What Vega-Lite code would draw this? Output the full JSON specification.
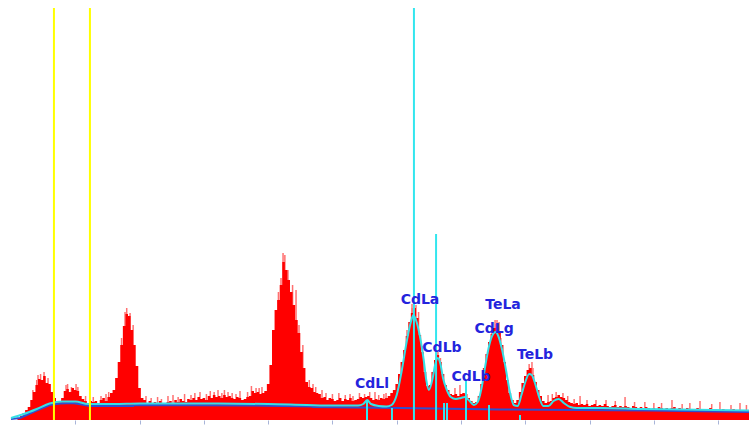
{
  "$schema": "https://vega.github.io/schema/vega-lite/v6.json",
  "width": 738,
  "height": 420,
  "autosize": "none",
  "padding": {"left": 11, "top": 0, "right": 0, "bottom": 5},
  "background": "white",
  "config": {"view": {"stroke": null}},
  "datasets": {
    "spec": [
      {"e":0.00,"c":0},{"e":0.02,"c":0},{"e":0.04,"c":0},{"e":0.06,"c":1},{"e":0.08,"c":4},{"e":0.10,"c":7},{"e":0.12,"c":10},{"e":0.14,"c":13},{"e":0.16,"c":20},{"e":0.18,"c":28},
      {"e":0.20,"c":35},{"e":0.22,"c":41},{"e":0.24,"c":40},{"e":0.26,"c":44},{"e":0.28,"c":37},{"e":0.30,"c":36},{"e":0.32,"c":28},{"e":0.34,"c":22},{"e":0.36,"c":19},{"e":0.38,"c":18},
      {"e":0.40,"c":22},{"e":0.42,"c":29},{"e":0.44,"c":31},{"e":0.46,"c":28},{"e":0.48,"c":32},{"e":0.50,"c":30},{"e":0.52,"c":29},{"e":0.54,"c":24},{"e":0.56,"c":21},{"e":0.58,"c":19},
      {"e":0.60,"c":17},{"e":0.62,"c":19},{"e":0.64,"c":18},{"e":0.66,"c":19},{"e":0.68,"c":17},{"e":0.70,"c":20},{"e":0.72,"c":22},{"e":0.74,"c":19},{"e":0.76,"c":23},{"e":0.78,"c":27},
      {"e":0.80,"c":30},{"e":0.82,"c":42},{"e":0.84,"c":58},{"e":0.86,"c":75},{"e":0.88,"c":94},{"e":0.90,"c":106},{"e":0.92,"c":104},{"e":0.94,"c":90},{"e":0.96,"c":75},{"e":0.98,"c":54},
      {"e":1.00,"c":32},{"e":1.02,"c":22},{"e":1.04,"c":20},{"e":1.06,"c":17},{"e":1.08,"c":19},{"e":1.10,"c":16},{"e":1.12,"c":18},{"e":1.14,"c":17},{"e":1.16,"c":19},{"e":1.18,"c":17},
      {"e":1.20,"c":16},{"e":1.22,"c":18},{"e":1.24,"c":19},{"e":1.26,"c":17},{"e":1.28,"c":20},{"e":1.30,"c":18},{"e":1.32,"c":21},{"e":1.34,"c":19},{"e":1.36,"c":18},{"e":1.38,"c":21},
      {"e":1.40,"c":20},{"e":1.42,"c":22},{"e":1.44,"c":20},{"e":1.46,"c":23},{"e":1.48,"c":21},{"e":1.50,"c":22},{"e":1.52,"c":20},{"e":1.54,"c":24},{"e":1.56,"c":22},{"e":1.58,"c":25},
      {"e":1.60,"c":23},{"e":1.62,"c":24},{"e":1.64,"c":22},{"e":1.66,"c":25},{"e":1.68,"c":23},{"e":1.70,"c":24},{"e":1.72,"c":22},{"e":1.74,"c":21},{"e":1.76,"c":23},{"e":1.78,"c":22},
      {"e":1.80,"c":20},{"e":1.82,"c":21},{"e":1.84,"c":23},{"e":1.86,"c":24},{"e":1.88,"c":29},{"e":1.90,"c":27},{"e":1.92,"c":28},{"e":1.94,"c":26},{"e":1.96,"c":27},{"e":1.98,"c":29},
      {"e":2.00,"c":36},{"e":2.02,"c":55},{"e":2.04,"c":90},{"e":2.06,"c":110},{"e":2.08,"c":120},{"e":2.10,"c":135},{"e":2.12,"c":158},{"e":2.14,"c":150},{"e":2.16,"c":140},{"e":2.18,"c":128},
      {"e":2.20,"c":115},{"e":2.22,"c":100},{"e":2.24,"c":87},{"e":2.26,"c":68},{"e":2.28,"c":52},{"e":2.30,"c":38},{"e":2.32,"c":33},{"e":2.34,"c":32},{"e":2.36,"c":28},{"e":2.38,"c":27},
      {"e":2.40,"c":26},{"e":2.42,"c":22},{"e":2.44,"c":23},{"e":2.46,"c":20},{"e":2.48,"c":22},{"e":2.50,"c":21},{"e":2.52,"c":19},{"e":2.54,"c":20},{"e":2.56,"c":22},{"e":2.58,"c":19},
      {"e":2.60,"c":21},{"e":2.62,"c":20},{"e":2.64,"c":22},{"e":2.66,"c":19},{"e":2.68,"c":20},{"e":2.70,"c":21},{"e":2.72,"c":23},{"e":2.74,"c":22},{"e":2.76,"c":23},{"e":2.78,"c":24},
      {"e":2.80,"c":22},{"e":2.82,"c":20},{"e":2.84,"c":21},{"e":2.86,"c":20},{"e":2.88,"c":22},{"e":2.90,"c":21},{"e":2.92,"c":22},{"e":2.94,"c":24},{"e":2.96,"c":27},{"e":2.98,"c":30},
      {"e":3.00,"c":36},{"e":3.02,"c":46},{"e":3.04,"c":58},{"e":3.06,"c":70},{"e":3.08,"c":84},{"e":3.10,"c":98},{"e":3.12,"c":107},{"e":3.14,"c":112},{"e":3.16,"c":102},{"e":3.18,"c":85},
      {"e":3.20,"c":68},{"e":3.22,"c":48},{"e":3.24,"c":34},{"e":3.26,"c":35},{"e":3.28,"c":48},{"e":3.30,"c":60},{"e":3.32,"c":65},{"e":3.34,"c":58},{"e":3.36,"c":46},{"e":3.38,"c":35},
      {"e":3.40,"c":30},{"e":3.42,"c":26},{"e":3.44,"c":25},{"e":3.46,"c":26},{"e":3.48,"c":24},{"e":3.50,"c":26},{"e":3.52,"c":27},{"e":3.54,"c":26},{"e":3.56,"c":22},{"e":3.58,"c":19},
      {"e":3.60,"c":17},{"e":3.62,"c":18},{"e":3.64,"c":24},{"e":3.66,"c":36},{"e":3.68,"c":52},{"e":3.70,"c":66},{"e":3.72,"c":78},{"e":3.74,"c":86},{"e":3.76,"c":92},{"e":3.78,"c":96},
      {"e":3.80,"c":88},{"e":3.82,"c":75},{"e":3.84,"c":58},{"e":3.86,"c":40},{"e":3.88,"c":27},{"e":3.90,"c":20},{"e":3.92,"c":17},{"e":3.94,"c":20},{"e":3.96,"c":28},{"e":3.98,"c":37},
      {"e":4.00,"c":44},{"e":4.02,"c":50},{"e":4.04,"c":52},{"e":4.06,"c":45},{"e":4.08,"c":38},{"e":4.10,"c":30},{"e":4.12,"c":24},{"e":4.14,"c":19},{"e":4.16,"c":17},{"e":4.18,"c":18},
      {"e":4.20,"c":19},{"e":4.22,"c":22},{"e":4.24,"c":23},{"e":4.26,"c":25},{"e":4.28,"c":23},{"e":4.30,"c":22},{"e":4.32,"c":20},{"e":4.34,"c":18},{"e":4.36,"c":17},{"e":4.38,"c":16},
      {"e":4.40,"c":17},{"e":4.42,"c":15},{"e":4.44,"c":16},{"e":4.46,"c":15},{"e":4.48,"c":16},{"e":4.50,"c":14},{"e":4.52,"c":15},{"e":4.54,"c":16},{"e":4.56,"c":14},{"e":4.58,"c":15},
      {"e":4.60,"c":14},{"e":4.62,"c":16},{"e":4.64,"c":14},{"e":4.66,"c":13},{"e":4.68,"c":14},{"e":4.70,"c":15},{"e":4.72,"c":13},{"e":4.74,"c":14},{"e":4.76,"c":13},{"e":4.78,"c":14},
      {"e":4.80,"c":13},{"e":4.82,"c":12},{"e":4.84,"c":14},{"e":4.86,"c":13},{"e":4.88,"c":12},{"e":4.90,"c":13},{"e":4.92,"c":12},{"e":4.94,"c":13},{"e":4.96,"c":12},{"e":4.98,"c":11},
      {"e":5.00,"c":12},{"e":5.02,"c":11},{"e":5.04,"c":13},{"e":5.06,"c":12},{"e":5.08,"c":11},{"e":5.10,"c":12},{"e":5.12,"c":11},{"e":5.14,"c":12},{"e":5.16,"c":13},{"e":5.18,"c":11},
      {"e":5.20,"c":12},{"e":5.22,"c":11},{"e":5.24,"c":10},{"e":5.26,"c":12},{"e":5.28,"c":11},{"e":5.30,"c":10},{"e":5.32,"c":11},{"e":5.34,"c":12},{"e":5.36,"c":10},{"e":5.38,"c":11},
      {"e":5.40,"c":10},{"e":5.42,"c":11},{"e":5.44,"c":12},{"e":5.46,"c":10},{"e":5.48,"c":11},{"e":5.50,"c":10},{"e":5.52,"c":9},{"e":5.54,"c":11},{"e":5.56,"c":10},{"e":5.58,"c":9},
      {"e":5.60,"c":10},{"e":5.62,"c":11},{"e":5.64,"c":9},{"e":5.66,"c":10},{"e":5.68,"c":9},{"e":5.70,"c":10},{"e":5.72,"c":9},{"e":5.74,"c":10}
    ],
    "spikes": [
      {"e":0.17,"c":30},{"e":0.20,"c":40},{"e":0.21,"c":45},{"e":0.23,"c":46},{"e":0.257,"c":48},{"e":0.288,"c":42},{"e":0.428,"c":35},{"e":0.44,"c":36},{"e":0.47,"c":33},{"e":0.506,"c":36},{"e":0.52,"c":33},
      {"e":0.58,"c":24},{"e":0.64,"c":23},{"e":0.70,"c":24},{"e":0.739,"c":26},{"e":0.76,"c":28},{"e":0.86,"c":82},{"e":0.887,"c":108},{"e":0.90,"c":112},{"e":0.926,"c":107},{"e":0.95,"c":95},
      {"e":1.05,"c":24},{"e":1.09,"c":22},{"e":1.14,"c":23},{"e":1.17,"c":21},{"e":1.221,"c":24},{"e":1.26,"c":25},{"e":1.30,"c":23},{"e":1.35,"c":26},{"e":1.40,"c":25},{"e":1.43,"c":27},
      {"e":1.47,"c":28},{"e":1.52,"c":26},{"e":1.55,"c":29},{"e":1.58,"c":28},{"e":1.61,"c":30},{"e":1.64,"c":27},{"e":1.66,"c":30},{"e":1.688,"c":28},{"e":1.72,"c":27},{"e":1.75,"c":26},
      {"e":1.781,"c":29},{"e":1.84,"c":28},{"e":1.87,"c":34},{"e":1.906,"c":32},{"e":1.93,"c":32},{"e":1.952,"c":33},
      {"e":2.08,"c":128},{"e":2.10,"c":142},{"e":2.116,"c":167},{"e":2.13,"c":165},{"e":2.154,"c":150},{"e":2.19,"c":135},{"e":2.217,"c":130},{"e":2.24,"c":95},{"e":2.27,"c":75},
      {"e":2.32,"c":40},{"e":2.349,"c":36},{"e":2.37,"c":33},{"e":2.419,"c":30},{"e":2.45,"c":27},{"e":2.50,"c":26},{"e":2.55,"c":27},{"e":2.60,"c":25},{"e":2.637,"c":26},{"e":2.66,"c":24},
      {"e":2.71,"c":27},{"e":2.75,"c":26},{"e":2.79,"c":28},{"e":2.831,"c":28},{"e":2.86,"c":25},{"e":2.90,"c":26},{"e":2.917,"c":27},
      {"e":3.08,"c":90},{"e":3.119,"c":116},{"e":3.12,"c":112},{"e":3.150,"c":115},{"e":3.17,"c":108},{"e":3.20,"c":74},{"e":3.31,"c":70},{"e":3.321,"c":68},{"e":3.34,"c":62},
      {"e":3.453,"c":32},{"e":3.492,"c":35},{"e":3.74,"c":90},{"e":3.765,"c":100},{"e":3.78,"c":100},{"e":3.796,"c":98},{"e":3.81,"c":82},{"e":4.03,"c":56},{"e":4.052,"c":58},{"e":4.06,"c":52},
      {"e":4.177,"c":25},{"e":4.21,"c":26},{"e":4.24,"c":28},{"e":4.293,"c":27},{"e":4.33,"c":24},{"e":4.38,"c":21},{"e":4.426,"c":24},{"e":4.48,"c":20},{"e":4.55,"c":20},{"e":4.628,"c":20},
      {"e":4.70,"c":19},{"e":4.776,"c":23},{"e":4.85,"c":18},{"e":4.93,"c":18},{"e":5.00,"c":17},{"e":5.06,"c":17},{"e":5.141,"c":20},{"e":5.22,"c":16},{"e":5.28,"c":17},{"e":5.359,"c":19},
      {"e":5.45,"c":16},{"e":5.514,"c":18},{"e":5.60,"c":15},{"e":5.670,"c":17},{"e":5.72,"c":15}
    ],
    "base": [
      {"e":0.00,"c":1},{"e":0.07,"c":2},{"e":0.19,"c":9},{"e":0.30,"c":15},{"e":0.38,"c":16.5},{"e":0.48,"c":17},{"e":0.55,"c":15.5},{"e":0.61,"c":14},
      {"e":0.95,"c":14},{"e":0.96,"c":15},{"e":1.86,"c":14.5},{"e":2.34,"c":13.5},{"e":2.35,"c":13},{"e":3.03,"c":12},{"e":3.80,"c":10.5},{"e":4.97,"c":9.5},{"e":5.74,"c":8}
    ],
    "fit": [
      {"e":0.00,"c":2},{"e":0.10,"c":6},{"e":0.20,"c":11},{"e":0.30,"c":16.5},{"e":0.40,"c":18.5},{"e":0.50,"c":18.5},{"e":0.60,"c":16},{"e":0.80,"c":16},{"e":1.00,"c":16.5},
      {"e":1.50,"c":16.5},{"e":2.00,"c":16},{"e":2.30,"c":15},{"e":2.50,"c":14.5},{"e":2.70,"c":14.5},{"e":2.74,"c":16},{"e":2.77,"c":20},{"e":2.80,"c":16},{"e":2.86,"c":14},
      {"e":2.92,"c":13.5},{"e":2.96,"c":15},{"e":3.00,"c":25},{"e":3.04,"c":50},{"e":3.08,"c":80},{"e":3.11,"c":98},{"e":3.13,"c":105},{"e":3.15,"c":100},{"e":3.18,"c":84},
      {"e":3.21,"c":60},{"e":3.23,"c":40},{"e":3.25,"c":30},{"e":3.28,"c":42},{"e":3.30,"c":56},{"e":3.32,"c":62},{"e":3.34,"c":56},{"e":3.36,"c":42},{"e":3.39,"c":30},
      {"e":3.42,"c":23},{"e":3.46,"c":21},{"e":3.50,"c":22},{"e":3.53,"c":23},{"e":3.56,"c":20},{"e":3.60,"c":15},{"e":3.63,"c":18},{"e":3.66,"c":32},{"e":3.69,"c":55},
      {"e":3.72,"c":75},{"e":3.75,"c":86},{"e":3.77,"c":88},{"e":3.79,"c":84},{"e":3.82,"c":70},{"e":3.85,"c":50},{"e":3.88,"c":28},{"e":3.91,"c":15},{"e":3.94,"c":14},
      {"e":3.97,"c":25},{"e":4.00,"c":38},{"e":4.03,"c":46},{"e":4.05,"c":45},{"e":4.08,"c":35},{"e":4.11,"c":22},{"e":4.14,"c":14},{"e":4.18,"c":14},{"e":4.22,"c":19},
      {"e":4.26,"c":21},{"e":4.30,"c":17},{"e":4.35,"c":13},{"e":4.40,"c":12},{"e":4.60,"c":12},{"e":4.90,"c":11},{"e":5.20,"c":10.5},{"e":5.74,"c":9.5}
    ],
    "vlines": [
      {"e":0.334,"c":412,"k":"y"},{"e":0.614,"c":412,"k":"y"},
      {"e":3.134,"c":412,"k":"c"},{"e":3.306,"c":186,"k":"c"},
      {"e":2.769,"c":20,"k":"c"},{"e":2.963,"c":12,"k":"c"},{"e":3.368,"c":17,"k":"c"},{"e":3.391,"c":17,"k":"c"},
      {"e":3.539,"c":40,"k":"c"},{"e":3.718,"c":15,"k":"c"},{"e":3.959,"c":5,"k":"c"}
    ],
    "labels": [
      {"e":2.808,"c":36.5,"t":"CdLl"},{"e":3.181,"c":120,"t":"CdLa"},{"e":3.352,"c":72.5,"t":"CdLb"},{"e":3.578,"c":43.5,"t":"CdLb"},
      {"e":3.827,"c":115,"t":"TeLa"},{"e":3.757,"c":91.5,"t":"CdLg"},{"e":4.076,"c":65.5,"t":"TeLb"}
    ]
  },
  "layer": [
    {
      "data": {"name": "spikes"},
      "mark": {"type": "rule", "color": "#ff7070", "strokeWidth": 1.5},
      "encoding": {
        "x": {"field": "e", "type": "quantitative", "scale": {"domain": [0, 5.74], "nice": false, "zero": false},
              "axis": {"values": [0.5,1,1.5,2,2.5,3,3.5,4,4.5,5,5.5], "domain": false, "labels": false, "grid": false, "ticks": true, "tickSize": 4, "tickColor": "#a8b4d8", "title": null}},
        "y": {"field": "c", "type": "quantitative", "scale": {"domain": [0, 420], "nice": false}, "axis": null},
        "y2": {"datum": 0}
      }
    },
    {
      "data": {"name": "spec"},
      "mark": {"type": "area", "color": "#ff0000", "interpolate": "step"},
      "encoding": {
        "x": {"field": "e", "type": "quantitative"},
        "y": {"field": "c", "type": "quantitative"}
      }
    },
    {
      "data": {"name": "base"},
      "mark": {"type": "line", "color": "#2f4fd0", "strokeWidth": 2},
      "encoding": {
        "x": {"field": "e", "type": "quantitative"},
        "y": {"field": "c", "type": "quantitative"}
      }
    },
    {
      "data": {"name": "fit"},
      "mark": {"type": "line", "color": "#35e0e6", "strokeWidth": 2, "interpolate": "monotone"},
      "encoding": {
        "x": {"field": "e", "type": "quantitative"},
        "y": {"field": "c", "type": "quantitative"}
      }
    },
    {
      "data": {"name": "vlines"},
      "mark": {"type": "rule", "strokeWidth": 2},
      "encoding": {
        "x": {"field": "e", "type": "quantitative"},
        "y": {"field": "c", "type": "quantitative"},
        "y2": {"datum": 0},
        "color": {"field": "k", "type": "nominal", "scale": {"domain": ["y", "c"], "range": ["#ffff00", "#33e6ee"]}, "legend": null}
      }
    },
    {
      "data": {"name": "labels"},
      "mark": {"type": "text", "font": "DejaVu Sans", "fontWeight": "bold", "fontSize": 14, "color": "#2424dd", "align": "center", "baseline": "middle"},
      "encoding": {
        "x": {"field": "e", "type": "quantitative"},
        "y": {"field": "c", "type": "quantitative"},
        "text": {"field": "t"}
      }
    }
  ]
}
